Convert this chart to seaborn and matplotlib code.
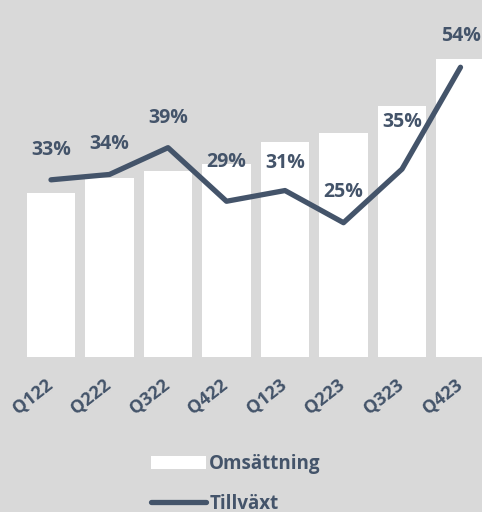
import numpy as np
import matplotlib
matplotlib.use("Agg")
import matplotlib.pyplot as plt
import matplotlib.transforms as mtransforms
import seaborn as sns
from matplotlib.patches import Patch
from matplotlib.lines import Line2D

# --- data -------------------------------------------------------------
quarters = ["Q122", "Q222", "Q322", "Q422", "Q123", "Q223", "Q323", "Q423"]
revenue = [164, 179, 186, 193, 215, 224, 251, 298]   # Omsättning
growth = [33, 34, 39, 29, 31, 25, 35, 54]             # Tillväxt, %

BG = "#d9d9d9"
DARK = "#44546a"
W, H = 482, 512

sns.set_theme(style="white")
plt.rcParams["font.family"] = ["Open Sans", "DejaVu Sans"]

fig = plt.figure(figsize=(W / 100, H / 100), dpi=100, facecolor=BG)
# axes in pixel geometry: bar baseline at y=356.7, top at y=20
left, bottom, top = 21.75, 356.7, 20
ax = fig.add_axes([left / W, 1 - bottom / H, (W - left) / W, (bottom - top) / H])
ax.set_facecolor(BG)

sns.barplot(x=quarters, y=revenue, color="white", width=0.83, saturation=1,
            edgecolor="none", ax=ax)
ax.set_xlim(-0.5, -0.5 + (W - left) / 58.5)
ax.set_ylim(0, bottom - top)
ax.set_yticks([])
ax.set_xlabel(""); ax.set_ylabel("")
for s in ax.spines.values():
    s.set_visible(False)
ax.tick_params(axis="x", length=0, pad=14)
shift = mtransforms.ScaledTranslation(-6 / 100, 0, fig.dpi_scale_trans)
for lbl in ax.get_xticklabels():
    lbl.set_rotation(38)
    lbl.set_ha("right")
    lbl.set_va("top")
    lbl.set_rotation_mode("anchor")
    lbl.set_fontsize(13)
    lbl.set_fontweight("bold")
    lbl.set_color(DARK)
    lbl.set_transform(lbl.get_transform() + shift)

ax2 = ax.twinx()
sns.lineplot(x=np.arange(len(quarters)), y=growth, color=DARK, linewidth=3.8,
             ax=ax2, solid_capstyle="round", solid_joinstyle="round")
ax2.set_ylim(0, (bottom - top) / 5.36)
ax2.set_yticks([])
ax2.set_ylabel("")
for s in ax2.spines.values():
    s.set_visible(False)

# label offsets above the line points (px)
label_dy = [30, 30, 30, 39, 28, 31, 47, 31]
for i, (g, dy) in enumerate(zip(growth, label_dy)):
    ax2.annotate(f"{g}%", (i, g), xytext=(0, dy * 0.72), textcoords="offset points",
                 ha="center", va="center", fontsize=14, fontweight="bold", color=DARK)

handles = [Patch(facecolor="white", edgecolor="none"),
           Line2D([0], [0], color=DARK, linewidth=3.8, solid_capstyle="round")]
fig.legend(handles, ["Omsättning", "Tillväxt"], loc="center",
           bbox_to_anchor=(236 / W, 1 - 484 / H), frameon=False,
           prop={"weight": "bold", "size": 13.5}, labelcolor=DARK,
           handlelength=2.9, handleheight=0.7, handletextpad=0.2,
           labelspacing=1.05)

fig.savefig("out.png", dpi=100, facecolor=BG)
